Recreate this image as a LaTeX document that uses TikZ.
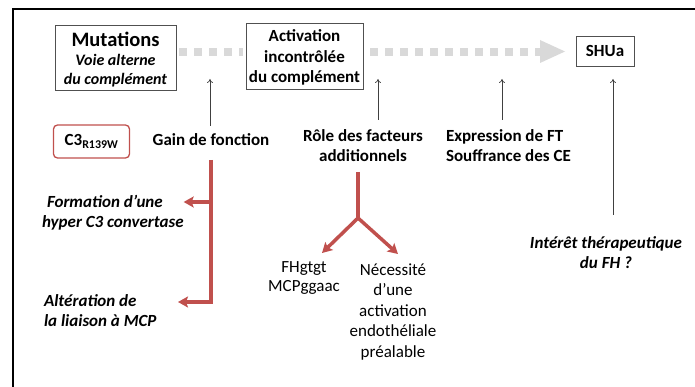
\documentclass[tikz,border=0pt]{standalone}
\usepackage{fontspec}
\setmainfont{Carlito}
\usetikzlibrary{arrows.meta}
\definecolor{redc}{RGB}{192,80,77}
\definecolor{dashg}{RGB}{217,217,217}
\definecolor{boxg}{RGB}{80,80,80}
\begin{document}
\begin{tikzpicture}[x=1pt,y=-1pt,
  every node/.style={inner sep=0pt,outer sep=0pt},
  txt/.style={align=center,font=\fontsize{17}{20.5}\selectfont},
  bx/.style={draw=boxg,line width=0.9pt,align=center,font=\fontsize{17}{20.5}\selectfont},
  thin arrow/.style={draw=black!75,line width=0.7pt,-{To[length=4pt,width=6pt]}},
  red arrow/.style={draw=redc,line width=3.5pt,-{Stealth[length=10pt,width=11pt,inset=2pt]}},
  red line/.style={draw=redc,line width=3.5pt},
  gdash/.style={draw=dashg,line width=7.5pt,dash pattern=on 7.5pt off 7.5pt}]
\useasboundingbox (0,0) rectangle (695,387);
% frame (top and left)
\draw[line width=2pt] (695,9.5) -- (12.5,9.5) -- (12.5,387);
% boxes
\node[bx,minimum width=121pt,minimum height=65pt] (mut) at (115.5,57.5) {};
\node[align=center,font=\fontsize{16}{19}\selectfont\bfseries\itshape] (mutt) at (115.5,59.5)
  {{\fontsize{20.5}{20}\selectfont\upshape Mutations}\\Voie alterne\\du complément};
\node[bx,minimum width=117pt,minimum height=66pt] (act) at (304.5,56) {};
\node[txt,font=\fontsize{17}{20.5}\selectfont\bfseries] (actt) at (304.5,57.5)
  {Activation\\incontrôlée\\du complément};
\node[bx,minimum width=58pt,minimum height=30pt] (shua) at (605,51) {\textbf{SHUa}};
% dashed grey connectors
\draw[gdash] ([xshift=3pt]mut.east |- 0,52) -- ([xshift=-3pt]act.west |- 0,52);
\coordinate (dA) at (370,52);
\coordinate (dB) at (540,52);
\draw[gdash] (dA) -- (dB);
\fill[dashg] (540,40) -- (565,51.5) -- (540,63) -- cycle;
% red box
\node[draw=redc,line width=1.3pt,rounded corners=4pt,minimum width=76pt,minimum height=33pt,font=\fontsize{17}{20}\selectfont\bfseries] (c3) at (91.5,141.5) {C3\textsubscript{R139W}};
% labels row
\node[txt,font=\fontsize{17}{20.5}\selectfont\bfseries] (gain) at (211,140) {Gain de fonction};
\node[txt,font=\fontsize{17}{20.5}\selectfont\bfseries] (role) at (363,145.5) {Rôle des facteurs\\additionnels};
\node[txt,align=left,font=\fontsize{17}{20.5}\selectfont\bfseries,anchor=west] (expr) at (446,145.5) {Expression de FT\\Souffrance des CE};
% thin arrows
\coordinate (t1) at (210,79);
\coordinate (t2) at (378,79);
\coordinate (t3) at (502,79);
\coordinate (t4) at (613,79);
\draw[thin arrow] (gain.north -| t1) ++(0,-8) -- (t1);
\draw[thin arrow] (378,120) -- (t2);
\draw[thin arrow] (502,120) -- (t3);
% bottom-left texts
\node[txt,align=left,anchor=west,font=\fontsize{17}{20}\selectfont\bfseries\itshape] (form) at (42,212.5) {\hspace*{5pt}Formation d’une\\hyper C3 convertase};
\node[txt,align=left,anchor=west,font=\fontsize{17}{20}\selectfont\bfseries\itshape] (alt) at (44,310.5) {Altération de\\la liaison à MCP};
% red branch
\coordinate (g0) at (211,160);
\coordinate (g1) at (211,202);
\coordinate (g2) at (211,302);
\draw[red line] (g0) -- ([yshift=1.75pt]g2);
\draw[red arrow] ([xshift=1.75pt]g1) -- (form.east |- g1);
\draw[red arrow] ([xshift=1.75pt]g2) -- (178,302);
% Y branch
\coordinate (y0) at (358,172);
\coordinate (y1) at (358,218);
\node[txt,font=\fontsize{17}{19.5}\selectfont] (fh) at (304,278) {FHgtgt\\MCPggaac};
\node[txt] (nec) at (393,312) {Nécessité\\d’une\\activation\\endothéliale\\préalable};
\draw[red line] (y0) -- (y1);
\draw[red arrow] (y1) -- (322,253);
\draw[red arrow] (y1) -- (398,254);
% right
\node[txt,font=\fontsize{17}{20}\selectfont\bfseries\itshape] (inter) at (606,252.5) {Intérêt thérapeutique\\du FH ?};
\draw[thin arrow] (613,215) -- (t4);
\end{tikzpicture}
\end{document}
